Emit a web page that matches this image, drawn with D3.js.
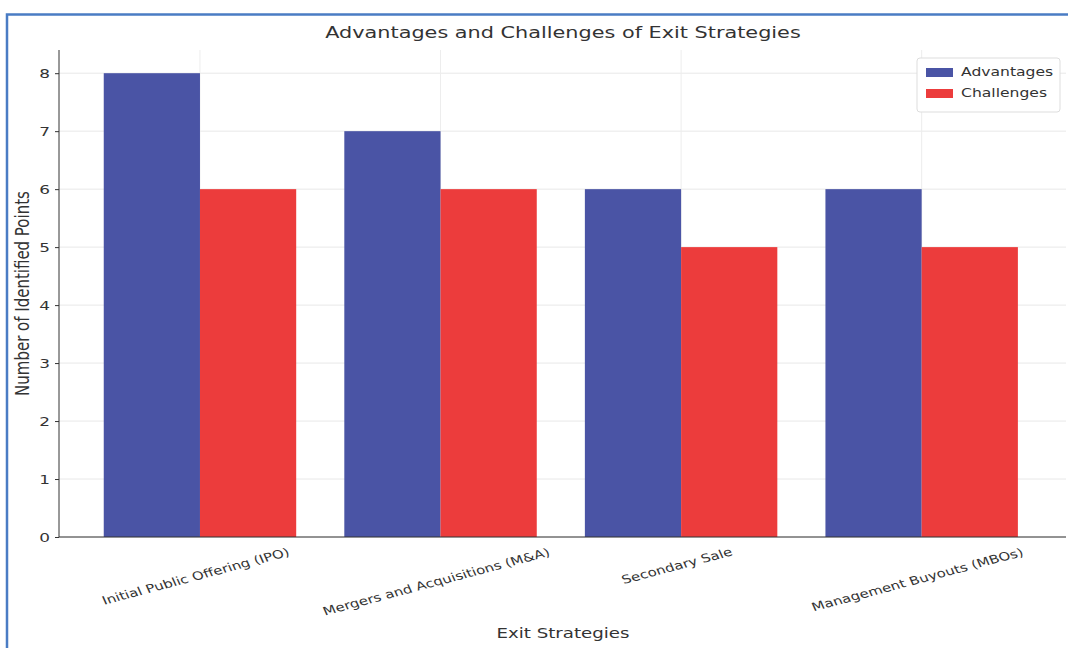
<!DOCTYPE html>
<html lang="en">
<head>
<meta charset="utf-8">
<title>Advantages and Challenges of Exit Strategies</title>
<script src="https://cdn.jsdelivr.net/npm/d3@7"></script>
<style>
  body { margin: 0; background: #fff; }
  text { font-family: "DejaVu Sans", sans-serif; fill: #333; }
</style>
</head>
<body>
<script>
// chart data
var strategies = ["Initial Public Offering (IPO)", "Mergers and Acquisitions (M&A)", "Secondary Sale", "Management Buyouts (MBOs)"];
var advantages = [8, 7, 6, 6];
var challenges = [6, 6, 5, 5];
var seriesNames = ["Advantages", "Challenges"];
var seriesColors = ["#4a54a5", "#ec3c3c"];
var yTicks = [0, 1, 2, 3, 4, 5, 6, 7, 8];

var w = 1068, h = 648;
var mLeft = 59, mRight = 1066, mTop = 50, mBottom = 537;
var sx = 1.3; // the reference text looks stretched sideways

var svg = d3.select("body").append("svg")
    .attr("width", w)
    .attr("height", h);

// blue frame
svg.append("path")
    .attr("d", "M7," + h + "V14.5H" + w)
    .attr("fill", "none")
    .attr("stroke", "#4a7cc4")
    .attr("stroke-width", 2.5);

// x positions in category units
var x = d3.scaleLinear().domain([-0.586, 3.6]).range([mLeft, mRight]);
var y = d3.scaleLinear().domain([0, 8.4]).range([mBottom, mTop]);
var barW = 0.4;

// grid
svg.append("g").selectAll("line").data(yTicks).enter().append("line")
    .attr("x1", mLeft).attr("x2", mRight)
    .attr("y1", function(d) { return y(d); })
    .attr("y2", function(d) { return y(d); })
    .attr("stroke", "#e8e8e8");
svg.append("g").selectAll("line").data(strategies).enter().append("line")
    .attr("x1", function(d, i) { return x(i); })
    .attr("x2", function(d, i) { return x(i); })
    .attr("y1", mTop).attr("y2", mBottom)
    .attr("stroke", "#ededed");

// bars
var series = [advantages, challenges];
series.forEach(function(vals, s) {
    svg.append("g").selectAll("rect").data(vals).enter().append("rect")
        .attr("x", function(d, i) { return x(i + (s - 1) * barW); })
        .attr("width", x(barW) - x(0))
        .attr("y", function(d) { return y(d); })
        .attr("height", function(d) { return y(0) - y(d); })
        .attr("fill", seriesColors[s]);
});

// y axis
var yAxis = svg.append("g")
    .attr("transform", "translate(" + mLeft + ",0)")
    .call(d3.axisLeft(y).tickValues(yTicks).tickFormat(d3.format("d")).tickSizeOuter(0).tickSize(4).tickPadding(5));
yAxis.select(".domain").attr("stroke", "#333").attr("d", "M0," + mTop + "V" + mBottom);
yAxis.selectAll("line").attr("stroke", "#333");
yAxis.selectAll("text")
    .style("font-size", "13px")
    .attr("fill", "#333")
    .attr("x", null)
    .attr("transform", "translate(-9,0) scale(" + sx + ",1)");

// x axis line
svg.append("line")
    .attr("x1", mLeft).attr("x2", mRight)
    .attr("y1", mBottom).attr("y2", mBottom)
    .attr("stroke", "#333");

// rotated category labels
var labels = svg.append("g").selectAll("text").data(strategies).enter().append("text")
    .attr("text-anchor", "middle")
    .attr("dominant-baseline", "middle")
    .style("font-size", "11.5px")
    .text(function(d) { return d; });
var ang = 15 * Math.PI / 180;
labels.attr("transform", function(d, i) {
    var tw = this.getComputedTextLength() * sx;
    var ext = tw * Math.sin(ang) + 13 * Math.cos(ang);
    return "translate(" + (x(i) - 4) + "," + (545 + ext / 2) + ") scale(" + sx + ",1) rotate(-19)";
});

// titles
svg.append("text")
    .attr("transform", "translate(563,38) scale(" + sx + ",1)")
    .attr("text-anchor", "middle")
    .style("font-size", "16px")
    .text("Advantages and Challenges of Exit Strategies");
svg.append("text")
    .attr("transform", "translate(563,638) scale(" + sx + ",1)")
    .attr("text-anchor", "middle")
    .style("font-size", "14px")
    .text("Exit Strategies");
svg.append("text")
    .attr("transform", "translate(29," + ((mTop + mBottom) / 2) + ") scale(" + sx + ",1) rotate(-90)")
    .attr("text-anchor", "middle")
    .style("font-size", "15px")
    .text("Number of Identified Points");

// legend
var lg = svg.append("g").attr("transform", "translate(917,58)");
lg.append("rect")
    .attr("width", 143).attr("height", 54)
    .attr("rx", 3)
    .attr("fill", "#fff")
    .attr("stroke", "#ddd");
seriesNames.forEach(function(name, i) {
    lg.append("rect")
        .attr("x", 9).attr("y", 10 + i * 21)
        .attr("width", 27).attr("height", 9)
        .attr("fill", seriesColors[i]);
    lg.append("text")
        .attr("transform", "translate(44," + (15 + i * 21) + ") scale(" + sx + ",1)")
        .attr("dominant-baseline", "middle")
        .style("font-size", "12px")
        .text(name);
});
</script>
</body>
</html>
